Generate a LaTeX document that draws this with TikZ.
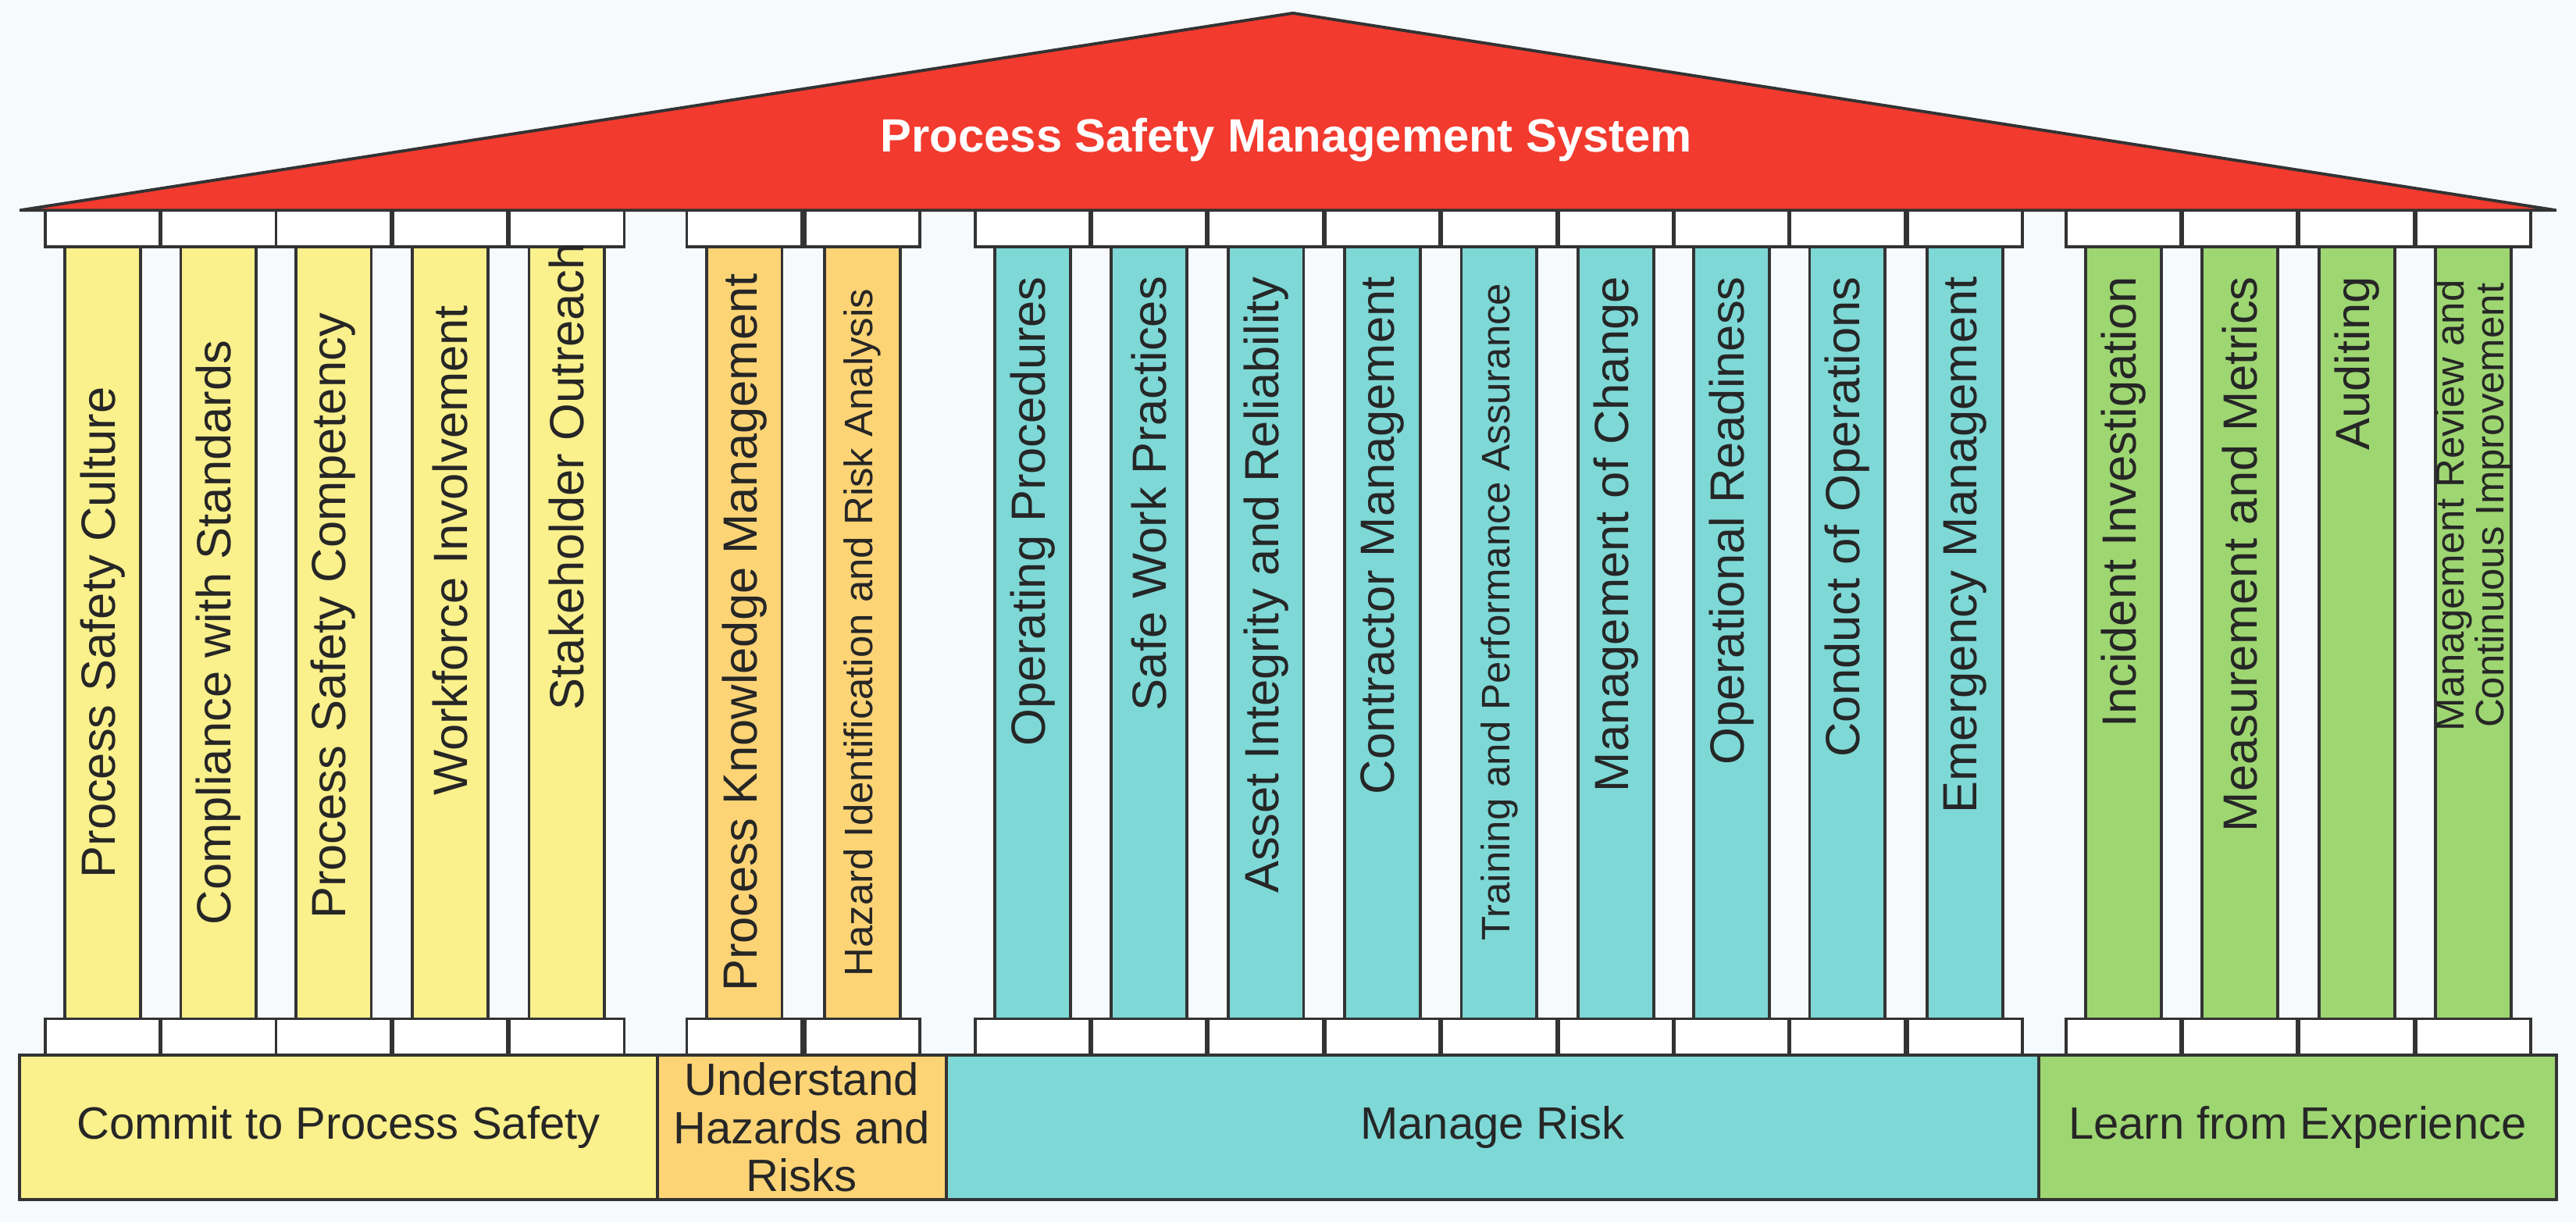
\documentclass[tikz,border=0pt]{standalone}
\usepackage{fontspec}
\setmainfont{Liberation Sans}
\begin{document}
\begin{tikzpicture}[x=0.02104cm,y=-0.02104cm,
  ol/.style={draw=black!80,line width=1.1pt},
  capbox/.style={ol,fill=white},
  lab/.style={rotate=90,font=\fontsize{17.5}{19}\selectfont,text=black!85,inner sep=0pt},
  sm/.style={lab,font=\fontsize{14.5}{15}\selectfont},
  band/.style={ol,align=center,font=\fontsize{16.5}{19}\selectfont,text=black!85}]
\definecolor{bg}{HTML}{F7FAFC}
\definecolor{yel}{HTML}{FAF08C}
\definecolor{ora}{HTML}{FCD476}
\definecolor{tea}{HTML}{7DD8D6}
\definecolor{gre}{HTML}{9ED672}
\definecolor{roof}{HTML}{F23A2E}
\fill[bg] (0,0) rectangle (1568,744);
\useasboundingbox (0,0) rectangle (1568,744);
\newcommand{\pcol}[5]{%
  \draw[capbox] (#1-35,128) rectangle (#1+35,150);
  \draw[capbox] (#1-35,620) rectangle (#1+35,642);
  \draw[ol,fill=#2] (#1-23,150) rectangle (#1+23,620);
  \node[#3] at (#1,#4) {#5};}
\pcol{62.5}{yel}{lab}{385}{Process Safety Culture}
\pcol{133}{yel}{lab}{385}{Compliance with Standards}
\pcol{203}{yel}{lab}{375}{Process Safety Competency}
\pcol{274}{yel}{lab}{335}{Workforce Involvement}
\pcol{345}{yel}{lab}{290}{Stakeholder Outreach}
\pcol{453}{ora}{lab}{385}{Process Knowledge Management}
\pcol{525}{ora}{sm}{385}{Hazard Identification and Risk Analysis}
\pcol{628.5}{tea}{lab,anchor=east}{168}{Operating Procedures}
\pcol{699.5}{tea}{lab,anchor=east}{168}{Safe Work Practices}
\pcol{770.5}{tea}{lab,anchor=east}{168}{Asset Integrity and Reliability}
\pcol{841.5}{tea}{lab,anchor=east}{168}{Contractor Management}
\pcol{912.5}{tea}{sm,anchor=east}{172}{Training and Performance Assurance}
\pcol{983.5}{tea}{lab,anchor=east}{168}{Management of Change}
\pcol{1054}{tea}{lab,anchor=east}{168}{Operational Readiness}
\pcol{1124.5}{tea}{lab,anchor=east}{168}{Conduct of Operations}
\pcol{1196}{tea}{lab,anchor=east}{168}{Emergency Management}
\pcol{1292.5}{gre}{lab,anchor=east}{168}{Incident Investigation}
\pcol{1363.5}{gre}{lab,anchor=east}{168}{Measurement and Metrics}
\pcol{1434.5}{gre}{lab,anchor=east}{168}{Auditing}
\pcol{1505.5}{gre}{lab,font=\fontsize{14.5}{13}\selectfont,anchor=east,align=center}{170}{Management Review and\\Continuous Improvement}
\draw[ol,fill=roof] (12,128) -- (787,8) -- (1556,128) -- cycle;
\node[text=white,font=\bfseries\fontsize{17}{20}\selectfont] (title) at (783,85) {Process Safety Management System};
\draw[band,fill=yel] (12,642) rectangle node{Commit to Process Safety} (400,730);
\draw[band,fill=ora] (400,642) rectangle node[font=\fontsize{16.5}{17.5}\selectfont]{Understand\\Hazards and\\Risks} (576,730);
\draw[band,fill=tea] (576,642) rectangle node{Manage Risk} (1241,730);
\draw[band,fill=gre] (1241,642) rectangle node{Learn from Experience} (1556,730);
\end{tikzpicture}
\end{document}
